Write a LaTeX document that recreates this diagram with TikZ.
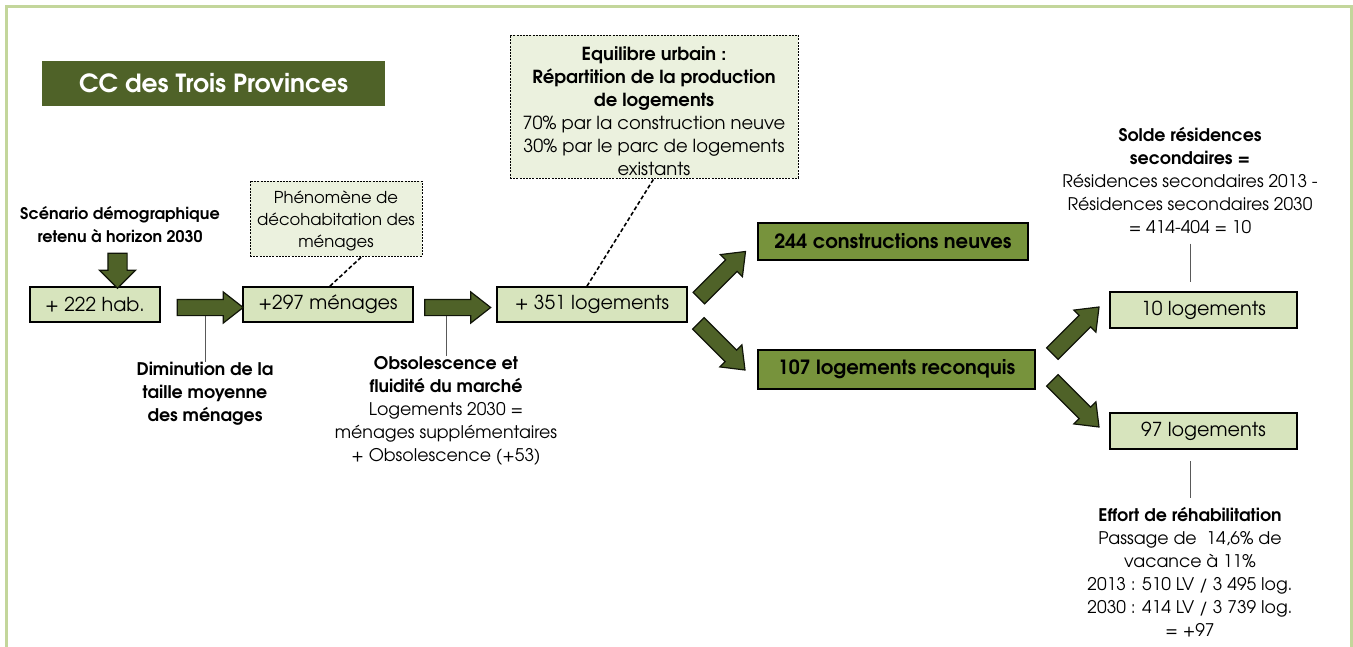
\documentclass[tikz,border=0pt]{standalone}
\usepackage{fontspec}
\setmainfont{TeX Gyre Adventor}
\usetikzlibrary{shapes.arrows}
\definecolor{MFrame}{HTML}{C3D69B}
\definecolor{MDark}{HTML}{4F6228}
\definecolor{MMid}{HTML}{77933C}
\definecolor{MLight}{HTML}{D7E4BD}
\definecolor{MPale}{HTML}{EBF1DE}

\begin{document}
\begin{tikzpicture}[x=0.5pt,y=-0.5pt,
		lightbox/.style={draw=black,line width=0.9pt,fill=MLight,minimum height=17.5pt,inner sep=0pt,font=\fontsize{9.6}{12}\selectfont},
		midbox/.style={draw=black,line width=0.9pt,fill=MMid,minimum height=18.5pt,inner sep=0pt,font=\bfseries\fontsize{9.8}{12}\selectfont},
		notebox/.style={draw=black,dash pattern=on 1pt off 0.6pt,line width=0.4pt,fill=MPale,inner sep=0pt,align=center,font=\fontsize{9}{11.5}\selectfont},
		remark/.style={align=center,inner sep=0pt,font=\fontsize{8.7}{11.5}\selectfont},
		boldremark/.style={remark,font=\bfseries\fontsize{8.7}{11.5}\selectfont},
		fatarrow/.style={single arrow,draw=black!80!MDark,fill=MDark,line width=0.6pt,inner xsep=0pt,inner ysep=3.75pt,single arrow head extend=3.75pt,single arrow tip angle=76,minimum height=33pt},
		link/.style={draw=black!65,line width=0.5pt},
		dashlink/.style={draw=black,line width=0.8pt,dash pattern=on 2pt off 1.2pt}]
	\useasboundingbox (0,0) rectangle (1353,647);
	\draw[MFrame,line width=1.5pt] (6.3,647) -- (6.3,6.3) -- (1351,6.3) -- (1351,647);

	\node[fill=MDark,text=white,minimum width=171.5pt,minimum height=22.5pt,inner sep=0pt,font=\bfseries\fontsize{12.5}{14}\selectfont] (titre) at (213.5,83.5) {CC des Trois Provinces};

	\node[lightbox,minimum width=65pt] (hab) at (95,304.5) {+ 222 hab.};
	\node[lightbox,minimum width=85pt] (menages) at (328,304.5) {+297 ménages};
	\node[lightbox,minimum width=95pt] (logements) at (592,304.5) {+ 351 logements};
	\node[midbox,minimum width=135pt] (neuves) at (893,241.5) {244 constructions neuves};
	\node[midbox,minimum width=138.5pt,minimum height=19.5pt] (reconquis) at (896.5,369.5) {107 logements reconquis};
	\node[lightbox,minimum width=93.5pt,minimum height=18pt] (dix) at (1203.5,310) {10 logements};
	\node[lightbox,minimum width=93.5pt,minimum height=18pt] (quatrevingtdixsept) at (1203.5,431) {97 logements};

	\node[notebox,minimum width=86pt,minimum height=37.5pt,font=\fontsize{8.2}{11}\selectfont] (decohab) at (336,218.5) {\rule{0pt}{9pt}Phénomène de\\décohabitation des\\ménages};
	\node[notebox,minimum width=144pt,minimum height=71.5pt] (equilibre) at (654,106.5) {\rule{0pt}{12pt}\textbf{Equilibre urbain :}\\\textbf{Répartition de la production}\\\textbf{de logements}\\70\% par la construction neuve\\30\% par le parc de logements\\existants};

	\node[boldremark,font=\bfseries\fontsize{8}{11.5}\selectfont] (scenario) at (120,224.5) {Scénario démographique\\retenu à horizon 2030};
	\node[boldremark] (diminution) at (205,393.5) {Diminution de la\\taille moyenne\\des ménages};
	\node[remark] (obsolescence) at (446,411) {\textbf{Obsolescence et}\\\textbf{fluidité du marché}\\Logements 2030 =\\ménages supplémentaires\\+ Obsolescence (+53)};
	\node[remark] (solde) at (1190,181) {\textbf{Solde résidences}\\\textbf{secondaires =}\\Résidences secondaires 2013 -\\Résidences secondaires 2030\\= 414-404 = 10};
	\node[remark] (effort) at (1190,572) {\textbf{Effort de réhabilitation}\\Passage de~ 14,6\% de\\vacance à 11\%\\2013 : 510 LV / 3 495 log.\\2030 : 414 LV / 3 739 log.\\= +97};

	\draw[link] (diminution.north) -- (diminution.north |- 0,316);
	\draw[link] (obsolescence.north) -- (obsolescence.north |- 0,316);
	\draw[link,shorten <=4.5pt,shorten >=4.5pt] (solde.south) -- (solde.south |- dix.north);
	\draw[link,shorten <=4.5pt,shorten >=5.5pt] (effort.north) -- (effort.north |- quatrevingtdixsept.south);
	\draw[dashlink] ([xshift=1pt]menages.north) -- ([xshift=13pt]decohab.south);
	\draw[dashlink] ([xshift=-2.5pt]logements.north) -- (equilibre.south);

	\node[fatarrow,minimum height=17.5pt,inner ysep=4.5pt,single arrow head extend=4.25pt,single arrow tip angle=90,rotate=-90] (fleche0) at (117.5,266) {};
	\node[fatarrow] (fleche1) at (205,307.5) {};
	\node[fatarrow] (fleche2) at (452.5,307.5) {};
	\node[fatarrow,rotate=45] (fleche3) at (718.5,278.5) {};
	\node[fatarrow,rotate=-45] (fleche4) at (718,343) {};
	\node[fatarrow,rotate=45] (fleche5) at (1072,334) {};
	\node[fatarrow,rotate=-45] (fleche6) at (1072,400) {};
\end{tikzpicture}
\end{document}
